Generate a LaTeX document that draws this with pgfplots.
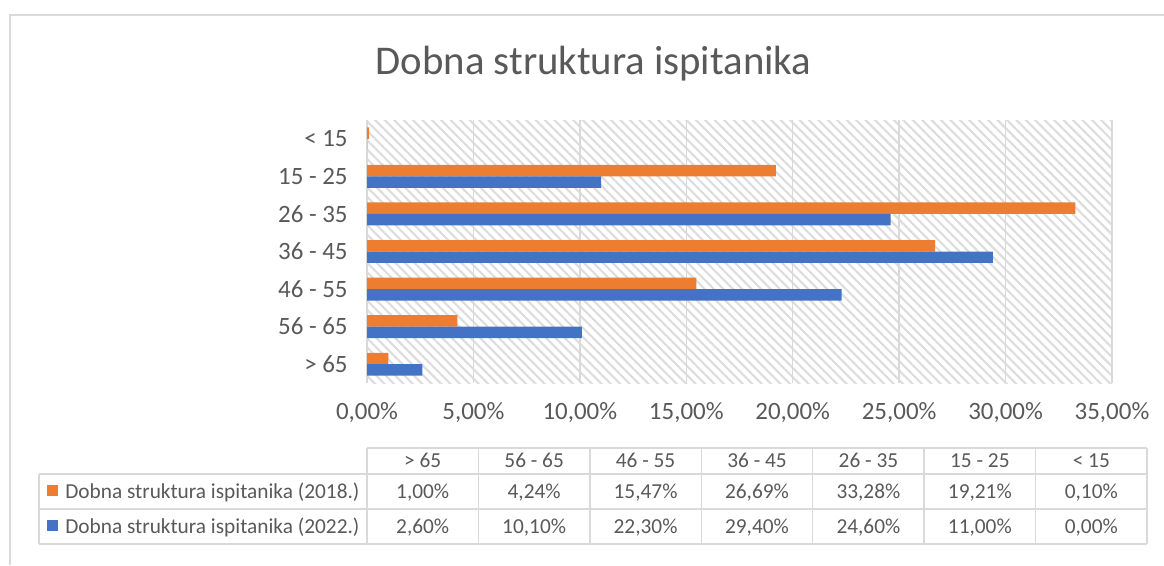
\documentclass[border=0pt]{standalone}
\usepackage{fontspec}
\setmainfont{Carlito}
\usepackage{pgfplots}
\pgfplotsset{compat=1.18}
\usetikzlibrary{patterns.meta}
\definecolor{orng}{HTML}{ED7D31}
\definecolor{blu}{HTML}{4472C4}
\definecolor{txt}{HTML}{595959}
\definecolor{grd}{HTML}{D9D9D9}
\definecolor{hatch}{HTML}{DDDDDD}

\pgfplotstableread{
y v2018 v2022
0 1.00 2.60
1 4.24 10.10
2 15.47 22.30
3 26.69 29.40
4 33.28 24.60
5 19.21 11.00
6 0.10 0.00
}\datatab

\begin{document}
\begin{tikzpicture}[x=0.75pt,y=-0.75pt]
\useasboundingbox (0,0) rectangle (1164,565);
\draw[grd, line width=1.1pt] (10,565) -- (10,15) -- (1164,15);
\node[txt, font=\fontsize{30.6}{36}\selectfont, anchor=base, inner sep=0pt] at (593.5,74) {Dobna struktura ispitanika};
\coordinate (A) at (367,383);
\begin{axis}[at={(A)}, anchor=south west, scale only axis,
  width=558.75pt, height=197.25pt,
  xmin=0, xmax=35, ymin=-0.5, ymax=6.5,
  xtick={0,5,...,35},
  xticklabels={{0,00\%},{5,00\%},{10,00\%},{15,00\%},{20,00\%},{25,00\%},{30,00\%},{35,00\%}},
  ytick={0,...,6},
  yticklabels={{> 65},{56 - 65},{46 - 55},{36 - 45},{26 - 35},{15 - 25},{< 15}},
  xmajorgrids, grid style={grd, line width=1.1pt},
  axis line style={draw=none}, major tick length=0pt,
  tick label style={txt, font=\fontsize{18.7}{22}\selectfont},
  yticklabel style={xshift=-11pt},
  xticklabel style={yshift=-11pt},
  axis background/.style={pattern={Lines[angle=-45,distance=5pt,line width=1.6pt]}, pattern color=hatch},
  xbar, bar width=8.6pt,
]
\addplot[fill=orng, draw=none, bar shift=4.3pt] table[x=v2018, y=y] {\datatab};
\addplot[fill=blu, draw=none, bar shift=-4.3pt] table[x=v2022, y=y] {\datatab};
\end{axis}
% data table
\def\cw{111.43}
\draw[grd, line width=1.1pt] (367,448) -- (1147,448);
\foreach \yy in {474,509,544} \draw[grd, line width=1.1pt] (39,\yy) -- (1147,\yy);
\draw[grd, line width=1.1pt] (39,474) -- (39,544);
\foreach \k in {0,...,7} \draw[grd, line width=1.1pt] ({367+\k*\cw},448) -- ({367+\k*\cw},544);
\begin{scope}[every node/.style={txt, font=\fontsize{16}{19}\selectfont, inner sep=0pt, anchor=base}]
\foreach \lab [count=\i from 0] in {{> 65},{56 - 65},{46 - 55},{36 - 45},{26 - 35},{15 - 25},{< 15}}
  \node at ({367+(\i+0.5)*\cw},467) {\lab};
\foreach \lab [count=\i from 0] in {{1,00\%},{4,24\%},{15,47\%},{26,69\%},{33,28\%},{19,21\%},{0,10\%}}
  \node at ({367+(\i+0.5)*\cw},498) {\lab};
\foreach \lab [count=\i from 0] in {{2,60\%},{10,10\%},{22,30\%},{29,40\%},{24,60\%},{11,00\%},{0,00\%}}
  \node at ({367+(\i+0.5)*\cw},533) {\lab};
\node[anchor=base west] at (65,498) {Dobna struktura ispitanika (2018.)};
\node[anchor=base west] at (65,533) {Dobna struktura ispitanika (2022.)};
\end{scope}
\fill[orng] (47,485) rectangle (58,496);
\fill[blu] (47,520) rectangle (58,531);
\end{tikzpicture}
\end{document}
